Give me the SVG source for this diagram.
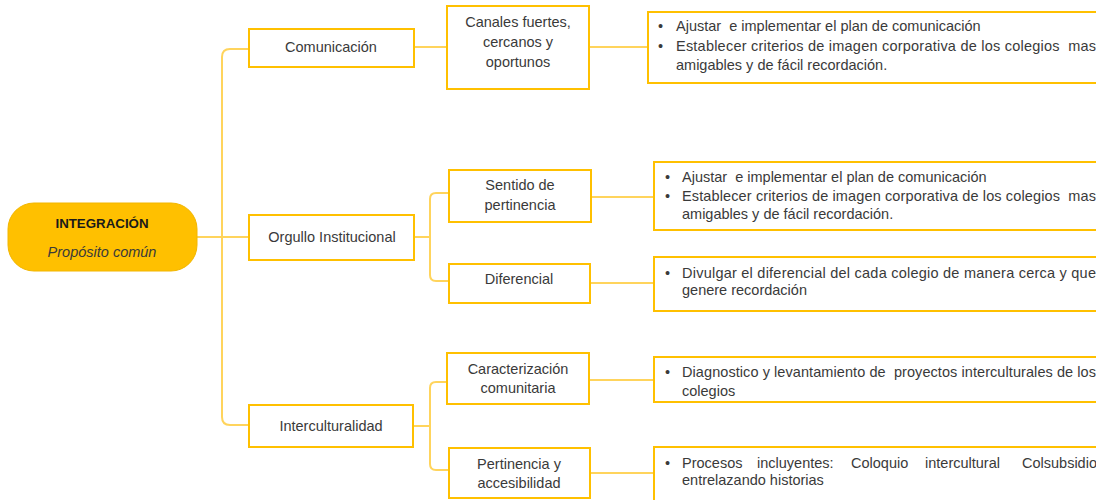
<svg xmlns="http://www.w3.org/2000/svg" width="1096" height="500" viewBox="0 0 1096 500">
<defs>
<style>
.box{fill:#fff;stroke:#FFC000;stroke-width:2}
.con{fill:none;stroke:#FFD45C;stroke-width:2}
.t{font-family:"Liberation Sans",Arial,sans-serif;font-size:14.5px;fill:#3a3a3a}
.c{text-anchor:middle}
</style>
</defs>
<rect width="1096" height="500" fill="#fff"/>
<g id="connectors">
<path class="con" d="M196,237 H249"/>
<path class="con" d="M249,49 H230 Q222,49 222,57 V417 Q222,425 230,425 H249"/>
<path class="con" d="M414,47 H447"/>
<path class="con" d="M589,47 H648"/>
<path class="con" d="M414,237 H430"/>
<path class="con" d="M449,193 H436 Q430,193 430,199 V275 Q430,281 436,281 H449"/>
<path class="con" d="M591,197 H654"/>
<path class="con" d="M590,283 H654"/>
<path class="con" d="M413,426 H430"/>
<path class="con" d="M447,382 H436 Q430,382 430,388 V464 Q430,470 436,470 H449"/>
<path class="con" d="M589,380 H654"/>
<path class="con" d="M590,473 H654"/>
</g>
<g id="root">
<rect x="8" y="203" width="189" height="68" rx="26" fill="#FFC000" stroke="#F2B600" stroke-width="1"/>
<text x="102" y="228" class="c" style="font-family:'Liberation Sans',Arial,sans-serif;font-size:13.3px;font-weight:bold;fill:#1a1a1a">INTEGRACIÓN</text>
<text x="102" y="257" class="t c" style="font-style:italic;fill:#3a3a3a">Propósito común</text>
</g>
<g id="comunicacion">
<rect class="box" x="249" y="29" width="165" height="38"/>
<text class="t c" x="331" y="52">Comunicación</text>
</g>
<g id="canales">
<rect class="box" x="447" y="6" width="142" height="83"/>
<text class="t c" x="518" y="27">Canales fuertes,</text>
<text class="t c" x="518" y="47">cercanos y</text>
<text class="t c" x="518" y="67">oportunos</text>
</g>
<g id="detalle1">
<rect class="box" x="648" y="12" width="470" height="71"/>
<text class="t" x="658" y="31">•</text>
<text class="t" x="676" y="31" xml:space="preserve">Ajustar  e implementar el plan de comunicación</text>
<text class="t" x="658" y="51">•</text>
<text class="t" x="676" y="51" textLength="420" lengthAdjust="spacing" xml:space="preserve">Establecer criterios de imagen corporativa de los colegios  mas</text>
<text class="t" x="676" y="70">amigables y de fácil recordación.</text>
</g>
<g id="orgullo">
<rect class="box" x="249" y="215" width="165" height="45"/>
<text class="t c" x="332" y="242">Orgullo Institucional</text>
</g>
<g id="sentido">
<rect class="box" x="449" y="170" width="142" height="52"/>
<text class="t c" x="520" y="190">Sentido de</text>
<text class="t c" x="520" y="210">pertinencia</text>
</g>
<g id="diferencial">
<rect class="box" x="449" y="264" width="141" height="39"/>
<text class="t c" x="519" y="284">Diferencial</text>
</g>
<g id="detalle2">
<rect class="box" x="654" y="162" width="470" height="68"/>
<text class="t" x="665" y="182">•</text>
<text class="t" x="682" y="182" xml:space="preserve">Ajustar  e implementar el plan de comunicación</text>
<text class="t" x="665" y="201">•</text>
<text class="t" x="682" y="201" textLength="414" lengthAdjust="spacing" xml:space="preserve">Establecer criterios de imagen corporativa de los colegios  mas</text>
<text class="t" x="682" y="219">amigables y de fácil recordación.</text>
</g>
<g id="detalle3">
<rect class="box" x="654" y="257" width="470" height="54"/>
<text class="t" x="665" y="278">•</text>
<text class="t" x="682" y="278" textLength="414" lengthAdjust="spacing">Divulgar el diferencial del cada colegio de manera cerca y que</text>
<text class="t" x="682" y="295">genere recordación</text>
</g>
<g id="interculturalidad">
<rect class="box" x="249" y="405" width="164" height="42"/>
<text class="t c" x="331" y="431">Interculturalidad</text>
</g>
<g id="caracterizacion">
<rect class="box" x="447" y="353" width="142" height="51"/>
<text class="t c" x="518" y="374">Caracterización</text>
<text class="t c" x="518" y="393">comunitaria</text>
</g>
<g id="pertinencia">
<rect class="box" x="449" y="448" width="141" height="50"/>
<text class="t c" x="519" y="469">Pertinencia y</text>
<text class="t c" x="519" y="488">accesibilidad</text>
</g>
<g id="detalle4">
<rect class="box" x="654" y="357" width="470" height="45"/>
<text class="t" x="665" y="377">•</text>
<text class="t" x="682" y="377" textLength="414" lengthAdjust="spacing" xml:space="preserve">Diagnostico y levantamiento de  proyectos interculturales de los</text>
<text class="t" x="682" y="396">colegios</text>
</g>
<g id="detalle5">
<rect class="box" x="654" y="447" width="470" height="64"/>
<text class="t" x="665" y="468">•</text>
<text class="t" y="468"><tspan x="682">Procesos</tspan><tspan x="757">incluyentes:</tspan><tspan x="851">Coloquio</tspan><tspan x="925">intercultural</tspan><tspan x="1022">Colsubsidio</tspan></text>
<text class="t" x="682" y="485">entrelazando historias</text>
</g>
</svg>
